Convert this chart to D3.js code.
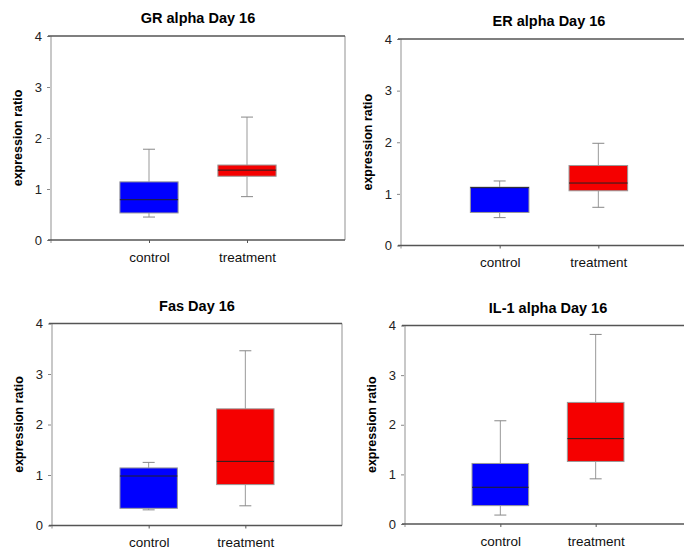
<!DOCTYPE html>
<html>
<head>
<meta charset="utf-8">
<script src="https://cdn.jsdelivr.net/npm/d3@7"></script>
<style>
  html, body { margin: 0; padding: 0; background: #fff; }
  svg { display: block; font-family: Arial, "Liberation Sans", sans-serif; }
</style>
</head>
<body>
<svg id="chart" width="684" height="550"></svg>
<script>
// Box plot summaries per panel: [control, treatment]
const categories = ["control", "treatment"];
const panelTitles = ["GR alpha Day 16", "ER alpha Day 16", "Fas Day 16", "IL-1 alpha Day 16"];
const yTicks = [0, 1, 2, 3, 4];
const whiskerLow  = [[0.45, 0.85], [0.54, 0.74], [0.31, 0.39], [0.18, 0.91]];
const q1          = [[0.53, 1.25], [0.64, 1.06], [0.34, 0.81], [0.37, 1.26]];
const median      = [[0.79, 1.37], [1.12, 1.21], [0.98, 1.27], [0.74, 1.72]];
const q3          = [[1.14, 1.47], [1.13, 1.55], [1.14, 2.31], [1.22, 2.45]];
const whiskerHigh = [[1.78, 2.41], [1.25, 1.98], [1.25, 3.46], [2.08, 3.82]];
const boxColors = ["#0000ff", "#f50000"];

// Plot frames for the 2x2 grid
const frames = [
  { left: 51,  right: 345, top: 36,    bottom: 240 },
  { left: 401, right: 697, top: 39,    bottom: 245.5 },
  { left: 52,  right: 342, top: 323.5, bottom: 525.5 },
  { left: 405, right: 691, top: 325.5, bottom: 524 }
];

const svg = d3.select("#chart");

frames.forEach((f, p) => {
  const g = svg.append("g");
  const w = f.right - f.left;
  const x = d3.scalePoint().domain(categories).range([f.left, f.right]).padding(1);
  const y = d3.scaleLinear().domain([0, 4]).range([f.bottom, f.top]);
  const bw = 0.198 * w;

  // light side borders
  g.append("line").attr("x1", f.left).attr("x2", f.left)
    .attr("y1", f.top).attr("y2", f.bottom + 3)
    .attr("stroke", "#c8c8c8").attr("stroke-width", 2);
  g.append("line").attr("x1", f.right).attr("x2", f.right)
    .attr("y1", f.top).attr("y2", f.bottom)
    .attr("stroke", "#c8c8c8").attr("stroke-width", 2);

  // y axis ticks + labels
  const yAxis = d3.axisLeft(y).tickValues(yTicks).tickSize(3).tickPadding(5).tickFormat(d3.format("d"));
  const ya = g.append("g").attr("transform", `translate(${f.left - 1},0)`).call(yAxis);
  ya.select(".domain").remove();
  ya.selectAll(".tick line").attr("stroke", "#888");
  ya.selectAll(".tick text").attr("fill", "#222").style("font-size", "13px")
    .style("font-family", "Arial, 'Liberation Sans', sans-serif");

  // x axis
  const xAxis = d3.axisBottom(x).tickSize(3).tickPadding(9).tickSizeOuter(0);
  const xa = g.append("g").attr("transform", `translate(0,${f.bottom})`).call(xAxis);
  xa.select(".domain").attr("stroke", "#555").attr("stroke-width", 1.5)
    .attr("d", `M${f.left - 3},0H${f.right}`);
  xa.selectAll(".tick line").attr("stroke", "#555");
  xa.selectAll(".tick text").attr("fill", "#111").style("font-size", "13.5px")
    .style("font-family", "Arial, 'Liberation Sans', sans-serif");

  // top border
  g.append("line").attr("x1", f.left - 3).attr("x2", f.right)
    .attr("y1", f.top).attr("y2", f.top)
    .attr("stroke", "#555").attr("stroke-width", 1.5);

  // boxes
  categories.forEach((c, i) => {
    const cx = x(c);
    const bg = g.append("g");
    // whiskers
    bg.append("line").attr("x1", cx).attr("x2", cx)
      .attr("y1", y(whiskerHigh[p][i])).attr("y2", y(q3[p][i]))
      .attr("stroke", "#999").attr("stroke-width", 1);
    bg.append("line").attr("x1", cx).attr("x2", cx)
      .attr("y1", y(q1[p][i])).attr("y2", y(whiskerLow[p][i]))
      .attr("stroke", "#999").attr("stroke-width", 1);
    [whiskerHigh[p][i], whiskerLow[p][i]].forEach(v => {
      bg.append("line").attr("x1", cx - 6).attr("x2", cx + 6)
        .attr("y1", y(v)).attr("y2", y(v))
        .attr("stroke", "#888").attr("stroke-width", 1);
    });
    // box
    bg.append("rect")
      .attr("x", cx - bw / 2).attr("width", bw)
      .attr("y", y(q3[p][i])).attr("height", y(q1[p][i]) - y(q3[p][i]))
      .attr("fill", boxColors[i]).attr("stroke", "#999").attr("stroke-width", 1);
    // median
    bg.append("line").attr("x1", cx - bw / 2).attr("x2", cx + bw / 2)
      .attr("y1", y(median[p][i])).attr("y2", y(median[p][i]))
      .attr("stroke", "#222").attr("stroke-width", 1);
  });

  // title
  g.append("text").attr("x", (f.left + f.right) / 2).attr("y", f.top - 13)
    .attr("text-anchor", "middle").attr("fill", "#000")
    .style("font-size", "14.5px").style("font-weight", "bold")
    .text(panelTitles[p]);

  // y axis title
  g.append("text")
    .attr("transform", `translate(${f.left - 33},${(f.top + f.bottom) / 2}) rotate(-90)`)
    .attr("text-anchor", "middle").attr("dy", "0.35em").attr("fill", "#000")
    .style("font-size", "12.5px").style("font-weight", "bold")
    .text("expression ratio");
});
</script>
</body>
</html>
